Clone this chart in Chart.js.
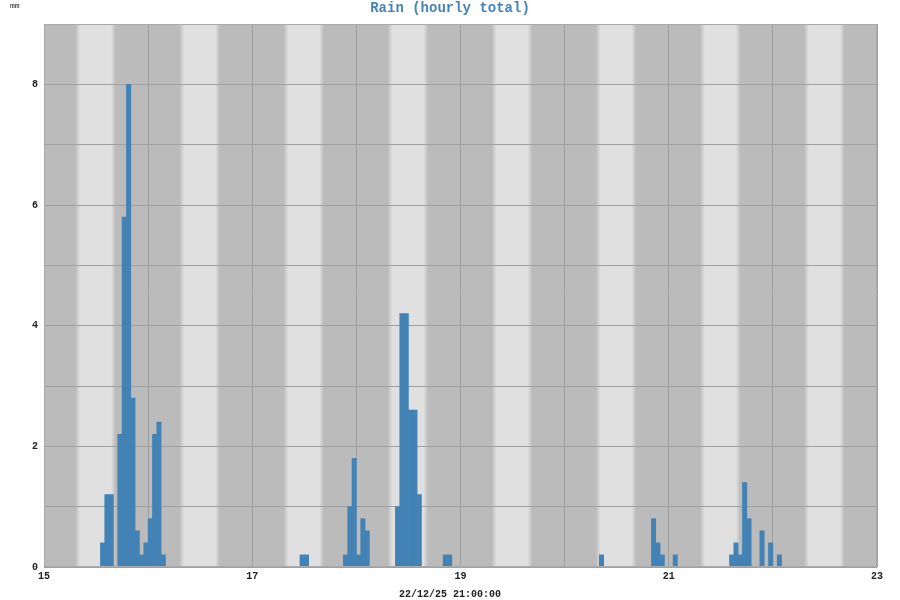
<!DOCTYPE html>
<html>
<head>
<meta charset="utf-8">
<title>Rain (hourly total)</title>
<script src="https://cdn.jsdelivr.net/npm/chart.js@4/dist/chart.umd.min.js"></script>
<style>
  html, body { margin: 0; padding: 0; background: #ffffff; }
  #wrap { width: 900px; height: 600px; }
</style>
</head>
<body>
<div id="wrap"><canvas id="rainChart"></canvas></div>
<script>
// Hours counted from 15 Dec 00:00, rain in mm for that hour (zero hours left out)
var rainHour = [13, 14, 15, 17, 18, 19, 20, 21, 22, 23, 24, 25, 26, 27,
                59, 60,
                69, 70, 71, 72, 73, 74,
                81, 82, 83, 84, 85, 86,
                92, 93,
                128,
                140, 141, 142, 145,
                158, 159, 160, 161, 162, 165, 167, 169];
var rainMm = [0.4, 1.2, 1.2, 2.2, 5.8, 8.0, 2.8, 0.6, 0.2, 0.4, 0.8, 2.2, 2.4, 0.2,
              0.2, 0.2,
              0.2, 1.0, 1.8, 0.2, 0.8, 0.6,
              1.0, 4.2, 4.2, 2.6, 2.6, 1.2,
              0.2, 0.2,
              0.2,
              0.8, 0.4, 0.2, 0.2,
              0.2, 0.4, 0.2, 1.4, 0.8, 0.6, 0.4, 0.2];
var dayLabels = ['15', '16', '17', '18', '19', '20', '21', '22', '23'];
var yMax = 9;
var stampText = '22/12/25 21:00:00';

var monoFont = "'Liberation Mono', 'DejaVu Sans Mono', monospace";

// Day / night shading behind the bars
var shadePlugin = {
    id: 'shade',
    beforeDraw: function (chart) {
        var ctx = chart.ctx, area = chart.chartArea, xs = chart.scales.x;
        var dark = '#bbbbbb', light = '#e0e0e0';
        ctx.save();
        ctx.fillStyle = dark;
        ctx.fillRect(area.left, area.top, area.right - area.left, area.bottom - area.top);
        for (var d = 0; d < dayLabels.length - 1; d++) {
            var a = xs.getPixelForValue(d * 24 + 7.2);
            var b = xs.getPixelForValue(d * 24 + 16.5);
            var g = ctx.createLinearGradient(a, 0, b, 0);
            g.addColorStop(0, dark);
            g.addColorStop(1.1 / 9.3, light);
            g.addColorStop(8.3 / 9.3, light);
            g.addColorStop(1, dark);
            ctx.fillStyle = g;
            ctx.fillRect(a, area.top, b - a, area.bottom - area.top);
        }
        ctx.restore();
    },
    afterDraw: function (chart) {
        var ctx = chart.ctx, area = chart.chartArea;
        ctx.save();
        ctx.fillStyle = '#4682b4';
        ctx.font = 'bold 14px ' + monoFont;
        ctx.textAlign = 'center';
        ctx.textBaseline = 'middle';
        ctx.fillText('Rain (hourly total)', 450, 8);
        ctx.fillStyle = '#222222';
        ctx.font = 'bold 10px ' + monoFont;
        ctx.fillText(stampText, 450, 594);
        ctx.font = '8px ' + monoFont;
        ctx.textAlign = 'left';
        ctx.fillText('mm', 10, 6);
        ctx.strokeStyle = '#aaaaaa';
        ctx.lineWidth = 1;
        ctx.strokeRect(area.left + 0.5, area.top + 0.5, area.right - area.left - 1, area.bottom - area.top - 1);
        ctx.restore();
    }
};

var ctxRain = document.getElementById('rainChart').getContext('2d');
var rainChart = new Chart(ctxRain, {
    type: 'bar',
    data: {
        datasets: [{
            label: 'Rain',
            data: rainHour.map(function (h, i) { return { x: h + 0.5, y: rainMm[i] }; }),
            backgroundColor: '#4282b4',
            borderWidth: 0,
            barPercentage: 1.0,
            categoryPercentage: 1.0
        }]
    },
    options: {
        responsive: true,
        maintainAspectRatio: false,
        animation: false,
        layout: { padding: { top: 24, right: 23, left: 0, bottom: 0 } },
        plugins: {
            legend: { display: false },
            title: { display: false },
            tooltip: { enabled: false }
        },
        scales: {
            x: {
                type: 'linear',
                min: 0,
                max: (dayLabels.length - 1) * 24,
                offset: false,
                grid: { offset: false, color: '#a0a0a0', drawTicks: false },
                border: { display: false },
                ticks: {
                    stepSize: 24,
                    autoSkip: false,
                    maxRotation: 0,
                    padding: 3,
                    color: '#222222',
                    font: { family: monoFont, size: 10, weight: 'bold' },
                    callback: function (v) {
                        var d = Math.round(v / 24);
                        return d % 2 === 0 ? dayLabels[d] : '';
                    }
                },
                afterFit: function (s) { s.height = 33; }
            },
            y: {
                min: 0,
                max: yMax,
                grid: { color: '#a0a0a0', drawTicks: false },
                border: { display: false },
                ticks: {
                    stepSize: 1,
                    padding: 6,
                    color: '#222222',
                    font: { family: monoFont, size: 10, weight: 'bold' },
                    callback: function (v) { return v % 2 === 0 && v < yMax ? String(v) : ''; }
                },
                afterFit: function (s) { s.width = 44; }
            }
        }
    },
    plugins: [shadePlugin]
});
</script>
</body>
</html>
